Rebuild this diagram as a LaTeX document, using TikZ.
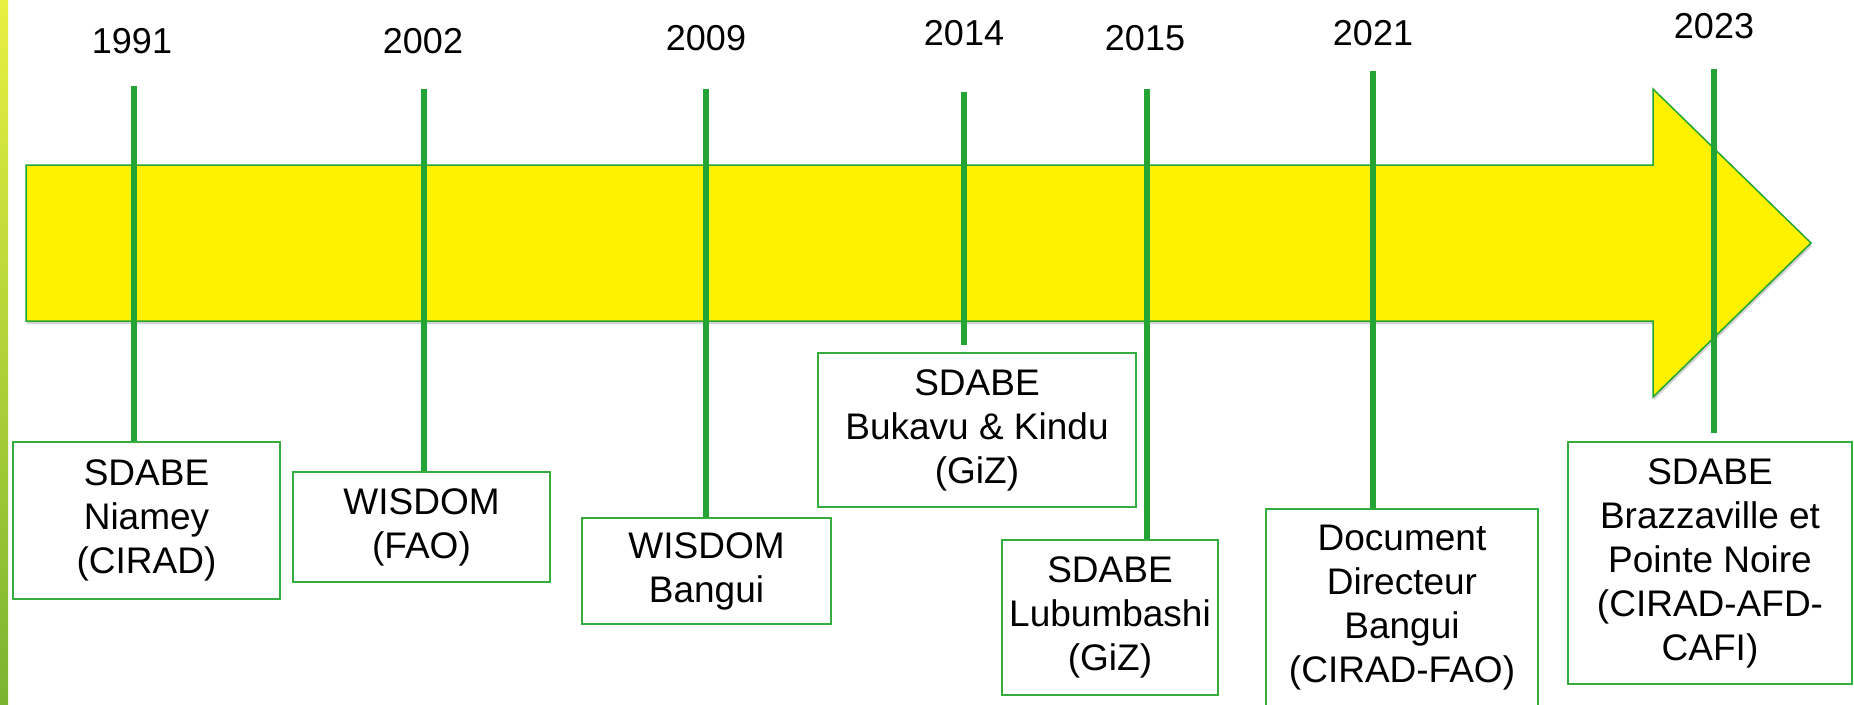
\documentclass[tikz,border=0pt]{standalone}
\usepackage{fontspec}
\setmainfont{Liberation Sans}
\usetikzlibrary{shadows}
\definecolor{tlgreen}{RGB}{36,164,52}
\definecolor{boxgreen}{RGB}{52,172,62}
\definecolor{stripTop}{RGB}{232,240,64}
\definecolor{stripBot}{RGB}{122,180,48}

\begin{document}
\begin{tikzpicture}[x=1pt,y=-1pt,
    evbox/.style={draw=boxgreen,line width=2pt,fill=white,align=center,
        inner sep=0pt,anchor=north west,font=\fontsize{37}{44}\selectfont},
    yearlbl/.style={inner sep=0pt,font=\fontsize{36}{40}\selectfont},
    tick/.style={tlgreen,line width=6pt}]
    \useasboundingbox (0,0) rectangle (1854,704);

    % side strip
    \shade[top color=stripTop,bottom color=stripBot] (0,0) rectangle (8,704);

    % big arrow
    \draw[fill=yellow,draw=tlgreen,line width=1.5pt,
        drop shadow={opacity=0.35,shadow xshift=1pt,shadow yshift=-3pt}]
        (26,165) -- (1653,165) -- (1653,89) -- (1811,243)
        -- (1653,397) -- (1653,321) -- (26,321) -- cycle;

    % years
    \node[yearlbl] (y1991) at (132,41) {1991};
    \node[yearlbl] (y2002) at (423,41) {2002};
    \node[yearlbl] (y2009) at (706,38) {2009};
    \node[yearlbl] (y2014) at (964,33) {2014};
    \node[yearlbl] (y2015) at (1145,38) {2015};
    \node[yearlbl] (y2021) at (1373,33) {2021};
    \node[yearlbl] (y2023) at (1714,26) {2023};

    % events
    \node[evbox,minimum width=267,minimum height=157] (e1991) at (12,441)
        {SDABE\\Niamey\\(CIRAD)};
    \node[evbox,minimum width=257,minimum height=110] (e2002) at (292,471)
        {WISDOM\\(FAO)};
    \node[evbox,minimum width=249,minimum height=106] (e2009) at (581,517)
        {WISDOM\\Bangui};
    \node[evbox,minimum width=318,minimum height=154] (e2014) at (817,352)
        {SDABE\\Bukavu \& Kindu\\(GiZ)};
    \node[evbox,minimum width=216,minimum height=155] (e2015) at (1001,539)
        {SDABE\\Lubumbashi\\(GiZ)};
    \node[evbox,minimum width=272,minimum height=198] (e2021) at (1265,508)
        {Document\\Directeur\\Bangui\\(CIRAD-FAO)};
    \node[evbox,minimum width=284,minimum height=242] (e2023) at (1567,441)
        {SDABE\\Brazzaville et\\Pointe Noire\\(CIRAD-AFD-\\CAFI)};

    % ticks
    \coordinate (t1991) at (134,86);
    \coordinate (t2002) at (424,89);
    \coordinate (t2009) at (706,89);
    \coordinate (t2014) at (964,92);
    \coordinate (t2015) at (1147,89);
    \coordinate (t2021) at (1373,71);
    \coordinate (t2023) at (1714,69);
    \draw[tick] (t1991) -- (t1991 |- e1991.north);
    \draw[tick] (t2002) -- (t2002 |- e2002.north);
    \draw[tick] (t2009) -- (t2009 |- e2009.north);
    \draw[tick,shorten >=7pt] (t2014) -- (t2014 |- e2014.north);
    \draw[tick] (t2015) -- (t2015 |- e2015.north);
    \draw[tick] (t2021) -- (t2021 |- e2021.north);
    \draw[tick,shorten >=8pt] (t2023) -- (t2023 |- e2023.north);
\end{tikzpicture}
\end{document}
